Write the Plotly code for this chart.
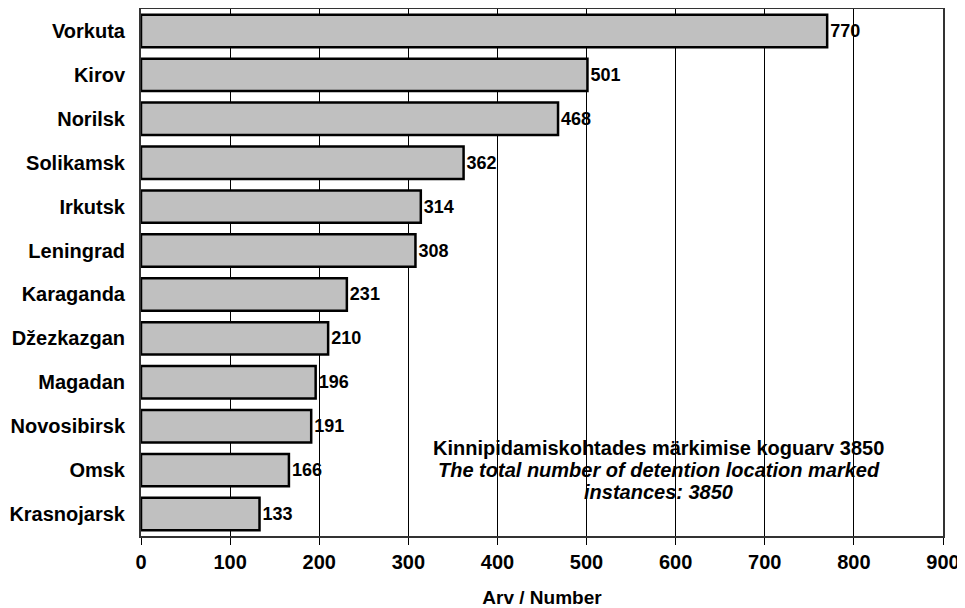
import plotly.graph_objects as go

# Data (top-to-bottom order as displayed)
places = ["Vorkuta", "Kirov", "Norilsk", "Solikamsk", "Irkutsk", "Leningrad",
          "Karaganda", "Džezkazgan", "Magadan", "Novosibirsk", "Omsk", "Krasnojarsk"]
counts = [770, 501, 468, 362, 314, 308, 231, 210, 196, 191, 166, 133]
x_ticks = [0, 100, 200, 300, 400, 500, 600, 700, 800, 900]
note_lines = [
    "<b>Kinnipidamiskohtades märkimise koguarv 3850</b>",
    "<b><i>The total number of detention location marked</i></b>",
    "<b><i>instances: 3850</i></b>",
]

FONT = "Liberation Sans, Arial, sans-serif"

fig = go.Figure()
fig.add_trace(
    go.Bar(
        y=places,
        x=counts,
        orientation="h",
        width=0.74,
        marker=dict(color="#c0c0c0", line=dict(color="black", width=2.5)),
        text=[f"<b>{v}</b>" for v in counts],
        textposition="outside",
        textfont=dict(family=FONT, size=18, color="black"),
        cliponaxis=False,
    )
)

# page body has an 8px margin, so the figure is a bit smaller than the window
fig.update_layout(
    width=957,
    height=600,
    plot_bgcolor="white",
    paper_bgcolor="white",
    margin=dict(l=133, r=22, t=1, b=72),
    showlegend=False,
    font=dict(family=FONT, size=18, color="black"),
    xaxis=dict(
        range=[0, 900],
        tickvals=x_ticks,
        showgrid=True,
        gridcolor="black",
        gridwidth=1,
        ticks="outside",
        ticklen=7,
        tickcolor="black",
        tickfont=dict(family=FONT, size=20, color="black", weight="bold"),
        title=dict(text="<b>Arv / Number</b>", font=dict(size=19), standoff=20),
        showline=True,
        linecolor="#333333",
        linewidth=2,
        mirror=True,
        zeroline=False,
        automargin=False,
    ),
    yaxis=dict(
        categoryorder="array",
        categoryarray=places[::-1],
        tickfont=dict(family=FONT, size=20, color="black", weight="bold"),
        ticks="",
        ticklabelstandoff=10,
        showline=True,
        linecolor="#333333",
        linewidth=2,
        mirror=True,
        range=[-0.5, len(places) - 0.5],
        automargin=False,
    ),
    bargap=0.26,
)

for line, ypos in zip(note_lines, [0.167, 0.125, 0.083]):
    fig.add_annotation(
        x=581, y=ypos, xref="x", yref="paper",
        xanchor="center", yanchor="middle",
        text=line,
        showarrow=False,
        font=dict(family=FONT, size=20, color="black"),
        align="center",
    )

fig.write_html("out.html")
